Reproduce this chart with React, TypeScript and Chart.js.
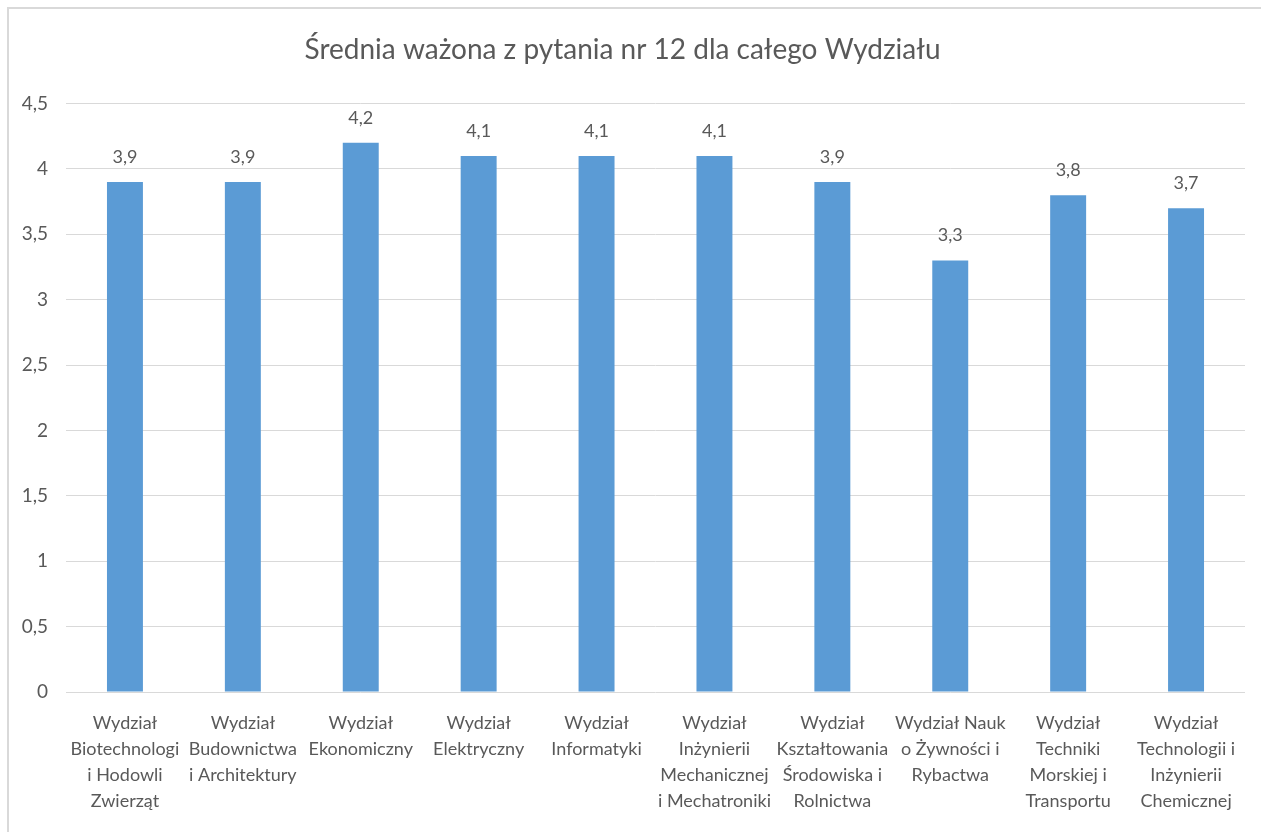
import React, { useEffect, useRef } from "react";
import { Chart, registerables } from "chart.js";

Chart.register(...registerables);

const TITLE = "Średnia ważona z pytania nr 12 dla całego Wydziału";

const categories: string[][] = [
  ["Wydział", "Biotechnologi", "i Hodowli", "Zwierząt"],
  ["Wydział", "Budownictwa", "i Architektury"],
  ["Wydział", "Ekonomiczny"],
  ["Wydział", "Elektryczny"],
  ["Wydział", "Informatyki"],
  ["Wydział", "Inżynierii", "Mechanicznej", "i Mechatroniki"],
  ["Wydział", "Kształtowania", "Środowiska i", "Rolnictwa"],
  ["Wydział Nauk", "o Żywności i", "Rybactwa"],
  ["Wydział", "Techniki", "Morskiej i", "Transportu"],
  ["Wydział", "Technologii i", "Inżynierii", "Chemicznej"],
];

const values: number[] = [3.9, 3.9, 4.2, 4.1, 4.1, 4.1, 3.9, 3.3, 3.8, 3.7];

const yMin = 0;
const yMax = 4.5;
const yStep = 0.5;

const FONT = "Lato, 'Open Sans', sans-serif";
const TEXT = "#595959";
const GRID = "#d9d9d9";
const BAR = "#5b9bd5";

const fmt = (v: number) => String(v).replace(".", ",");

const dataLabels = {
  id: "dataLabels",
  afterDatasetsDraw(chart: any) {
    const ctx = chart.ctx;
    const meta = chart.getDatasetMeta(0);
    ctx.save();
    ctx.fillStyle = TEXT;
    ctx.font = `18px ${FONT}`;
    ctx.textAlign = "center";
    ctx.textBaseline = "middle";
    meta.data.forEach((el: any, i: number) => {
      ctx.fillText(fmt(values[i]), el.x, el.y - 25);
    });
    ctx.restore();
  },
};

export default function App() {
  const ref = useRef<HTMLCanvasElement>(null);
  useEffect(() => {
    if (!ref.current) return;
    const chart = new Chart(ref.current, {
      type: "bar",
      data: {
        labels: categories,
        datasets: [
          {
            data: values,
            backgroundColor: BAR,
            barPercentage: 0.305,
            categoryPercentage: 1,
          },
        ],
      },
      options: {
        animation: false,
        responsive: false,
        maintainAspectRatio: false,
        layout: { padding: { left: 0, right: 16, top: 0, bottom: 0 } },
        plugins: {
          legend: { display: false },
          tooltip: { enabled: false },
          title: {
            display: true,
            text: TITLE,
            color: TEXT,
            font: { family: FONT, size: 28, weight: "normal", lineHeight: 1.2 },
            padding: { top: 33, bottom: 37 },
          },
        },
        scales: {
          x: {
            grid: { display: false },
            border: { display: false },
            ticks: {
              color: TEXT,
              font: { family: FONT, size: 18, lineHeight: 1.44 },
              padding: 10,
              maxRotation: 0,
              autoSkip: false,
            },
            afterFit: (s: any) => {
              s.height = 140;
            },
          },
          y: {
            min: yMin,
            max: yMax,
            grid: { color: GRID, drawTicks: false, lineWidth: 1 },
            border: { display: false },
            ticks: {
              stepSize: yStep,
              color: TEXT,
              font: { family: FONT, size: 19 },
              padding: 18,
              callback: (v: any) => fmt(Number(v)),
            },
            afterFit: (s: any) => {
              s.width = 66;
            },
          },
        },
      },
      plugins: [dataLabels],
    });
    return () => chart.destroy();
  }, []);

  return (
    <div style={{ position: "absolute", left: 0, top: 0, width: 1261, height: 832, overflow: "hidden", background: "#fff" }}>
      <div
        style={{
          position: "absolute",
          left: 7,
          top: 7,
          width: 1300,
          height: 900,
          borderLeft: "2px solid #d9d9d9",
          borderTop: "2px solid #d9d9d9",
        }}
      />
      <canvas ref={ref} width={1261} height={832} style={{ position: "absolute", left: 0, top: 0 }} />
    </div>
  );
}
